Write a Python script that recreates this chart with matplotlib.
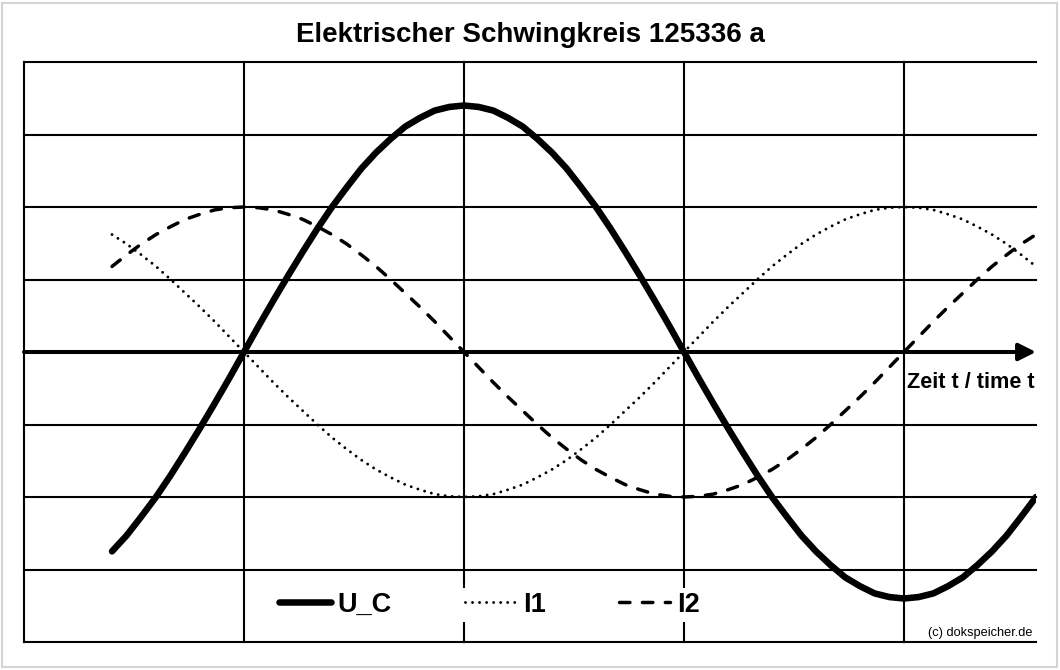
import matplotlib
matplotlib.use("Agg")
import matplotlib.pyplot as plt
from matplotlib.patches import Rectangle

plt.rcParams['font.family'] = ['Liberation Sans', 'DejaVu Sans']

# phase angle in degrees (gridline every 90 deg)
angle = [36, 42, 48, 54, 60, 66, 72, 78, 84, 90, 96, 102, 108, 114, 120, 126,
         132, 138, 144, 150, 156, 162, 168, 174, 180, 186, 192, 198, 204, 210,
         216, 222, 228, 234, 240, 246, 252, 258, 264, 270, 276, 282, 288, 294,
         300, 306, 312, 318, 324, 330, 336, 342, 348, 354, 360, 366, 372, 378,
         384, 390, 396, 402, 408, 414]

u_c = [-2.75, -2.53, -2.27, -2.00, -1.70, -1.38, -1.05, -0.71, -0.36, 0.00,
       0.36, 0.71, 1.05, 1.38, 1.70, 2.00, 2.27, 2.53, 2.75, 2.94, 3.11, 3.23,
       3.33, 3.38, 3.40, 3.38, 3.33, 3.23, 3.11, 2.94, 2.75, 2.53, 2.27, 2.00,
       1.70, 1.38, 1.05, 0.71, 0.36, 0.00, -0.36, -0.71, -1.05, -1.38, -1.70,
       -2.00, -2.27, -2.53, -2.75, -2.94, -3.11, -3.23, -3.33, -3.38, -3.40,
       -3.38, -3.33, -3.23, -3.11, -2.94, -2.75, -2.53, -2.27, -2.00]

i1 = [1.62, 1.49, 1.34, 1.18, 1.00, 0.81, 0.62, 0.42, 0.21, 0.00, -0.21,
      -0.42, -0.62, -0.81, -1.00, -1.18, -1.34, -1.49, -1.62, -1.73, -1.83,
      -1.90, -1.96, -1.99, -2.00, -1.99, -1.96, -1.90, -1.83, -1.73, -1.62,
      -1.49, -1.34, -1.18, -1.00, -0.81, -0.62, -0.42, -0.21, 0.00, 0.21,
      0.42, 0.62, 0.81, 1.00, 1.18, 1.34, 1.49, 1.62, 1.73, 1.83, 1.90, 1.96,
      1.99, 2.00, 1.99, 1.96, 1.90, 1.83, 1.73, 1.62, 1.49, 1.34, 1.18]

i2 = [1.18, 1.34, 1.49, 1.62, 1.73, 1.83, 1.90, 1.96, 1.99, 2.00, 1.99, 1.96,
      1.90, 1.83, 1.73, 1.62, 1.49, 1.34, 1.18, 1.00, 0.81, 0.62, 0.42, 0.21,
      0.00, -0.21, -0.42, -0.62, -0.81, -1.00, -1.18, -1.34, -1.49, -1.62,
      -1.73, -1.83, -1.90, -1.96, -1.99, -2.00, -1.99, -1.96, -1.90, -1.83,
      -1.73, -1.62, -1.49, -1.34, -1.18, -1.00, -0.81, -0.62, -0.42, -0.21,
      0.00, 0.21, 0.42, 0.62, 0.81, 1.00, 1.18, 1.34, 1.49, 1.62]

x_grid = [0, 90, 180, 270, 360]
y_grid = [-4, -3, -2, -1, 0, 1, 2, 3, 4]

title = "Elektrischer Schwingkreis 125336 a"
labels = ["U_C", "I1", "I2"]

W, H = 1060, 670
fig = plt.figure(figsize=(W / 100, H / 100), dpi=100)
fig.patch.set_facecolor('white')
fig.patches.append(Rectangle((2 / W, 3 / H), 1055 / W, 664 / H,
                             transform=fig.transFigure, fill=False,
                             edgecolor='#d4d4d4', lw=1.5))

ax = fig.add_axes([24 / W, 1 - 642 / H, 1012 / W, 580 / H])
ax.set_xlim(0, 414)
ax.set_ylim(-4, 4)
for s in ax.spines.values():
    s.set_visible(False)
ax.set_xticks([])
ax.set_yticks([])

for gx in x_grid:
    ax.axvline(gx, color='black', lw=1.5, zorder=1, clip_on=False)
for gy in y_grid:
    if gy != 0:
        ax.axhline(gy, color='black', lw=1.5, zorder=1, clip_on=False)

ax.annotate('', xy=(414, 0), xytext=(0, 0),
            arrowprops=dict(arrowstyle='-|>', lw=2.9, color='black',
                            mutation_scale=26, shrinkA=0, shrinkB=0),
            zorder=2, annotation_clip=False)

ax.plot(angle, u_c, color='black', lw=4.7, solid_capstyle='round',
        solid_joinstyle='round', label=labels[0], zorder=4)
ax.plot(angle, i1, color='black', lw=2.1, linestyle=(0, (0.01, 2.4)),
        dash_capstyle='round', label=labels[1], zorder=3)
ax.plot(angle, i2, color='black', lw=2.5, linestyle=(0, (3.0, 3.6)),
        dash_capstyle='round', label=labels[2], zorder=3)

leg = ax.legend(loc='center', bbox_to_anchor=(0.46, 0.064), ncol=3,
                frameon=True, fancybox=False, edgecolor='none',
                facecolor='white', framealpha=1, handlelength=1.9,
                handletextpad=0.25, columnspacing=2.7, borderpad=0.15,
                prop={'weight': 'bold', 'size': 19.5})
leg.set_zorder(5)

fig.text(530.5 / W, 1 - 35 / H, title, ha='center', va='center',
         fontsize=20, fontweight='bold')
fig.text(907 / W, 1 - 383 / H, "Zeit t / time t", fontsize=15.6,
         fontweight='bold', ha='left', va='center')
fig.text(1032 / W, 1 - 633 / H, "(c) dokspeicher.de",
         fontsize=9.2, ha='right', va='center', zorder=6)

fig.savefig("out.png", dpi=100)
